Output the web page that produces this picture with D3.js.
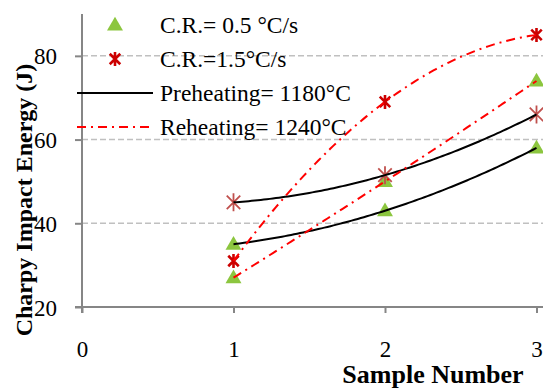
<!DOCTYPE html>
<html>
<head>
<meta charset="utf-8">
<script src="https://cdn.jsdelivr.net/npm/d3@7"></script>
<style>
  body { margin: 0; background: #fff; }
  svg { display: block; font-family: "Liberation Serif", "Times New Roman", serif; }
</style>
</head>
<body>
<div id="chart"></div>
<script>
// sample numbers and impact energies (J)
const samples = [1, 2, 3];
const preheatSlow = [35, 43, 58];   // triangles, Preheating 1180
const preheatFast = [45, 51.5, 66]; // stars, Preheating 1180
const reheatSlow = [27, 50, 74];    // triangles, Reheating 1240
const reheatFast = [31, 69, 85];    // stars, Reheating 1240
const xTicks = [0, 1, 2, 3];
const yTicks = [20, 40, 60, 80];
const legendLabels = ['C.R.= 0.5 °C/s', 'C.R.=1.5°C/s', 'Preheating= 1180°C', 'Reheating= 1240°C'];

const width = 543, height = 388;
const margin = { top: 14, right: 0, bottom: 81, left: 82 };

const svg = d3.select('#chart').append('svg')
    .attr('width', width)
    .attr('height', height);

const x = d3.scaleLinear().domain([0, 3]).range([margin.left, 536.5]);
const y = d3.scaleLinear().domain([20, 90]).range([height - margin.bottom, margin.top]);

// Horizontal dashed gridlines
svg.append('g').selectAll('line')
    .data(yTicks.filter(d => d > 20))
    .enter().append('line')
    .attr('x1', margin.left).attr('x2', width)
    .attr('y1', d => y(d)).attr('y2', d => y(d))
    .attr('stroke', '#c0c0c0')
    .attr('stroke-width', 1.5)
    .attr('stroke-dasharray', '6,3');

// Axes
const axisColor = '#868686';
const xAxis = svg.append('g')
    .attr('transform', 'translate(0,' + y(20) + ')')
    .call(d3.axisBottom(x).tickValues(xTicks).tickSize(6).tickPadding(28).tickFormat(d3.format('d')));
xAxis.select('.domain').remove();
xAxis.append('line')
    .attr('x1', margin.left - 7).attr('x2', width)
    .attr('stroke', axisColor).attr('stroke-width', 2);

const yAxis = svg.append('g')
    .attr('transform', 'translate(' + margin.left + ',0)')
    .call(d3.axisLeft(y).tickValues(yTicks).tickSize(7).tickPadding(18));
yAxis.select('.domain').remove();
yAxis.append('line')
    .attr('y1', y(90)).attr('y2', y(20) + 6)
    .attr('stroke', axisColor).attr('stroke-width', 2);

svg.selectAll('.tick line').attr('stroke', axisColor).attr('stroke-width', 2);
svg.selectAll('.tick text')
    .attr('fill', '#000')
    .style('font-family', '"Liberation Serif", "Times New Roman", serif')
    .style('font-size', '23px');
yAxis.selectAll('.tick text').attr('dy', '0.35em');
xAxis.selectAll('.tick line').attr('y2', 6);

// Axis titles
svg.append('text')
    .attr('transform', 'translate(32,200) rotate(-90)')
    .attr('text-anchor', 'middle')
    .style('font-size', '24px')
    .style('font-weight', 'bold')
    .text('Charpy Impact Energy (J)');

svg.append('text')
    .attr('x', 433).attr('y', 383)
    .attr('text-anchor', 'middle')
    .style('font-size', '26px')
    .style('font-weight', 'bold')
    .text('Sample Number');

// Marker helpers
const triangle = d3.symbol().type(d3.symbolTriangle).size(110);
function drawTriangles(g, pts) {
    g.selectAll(null).data(pts).enter().append('path')
        .attr('d', triangle)
        .attr('transform', d => 'translate(' + x(d[0]) + ',' + (y(d[1]) + 1) + ')')
        .attr('fill', '#8cc63f');
}
function starPath(r) {
    const a = r * 0.75;
    return 'M' + (-a) + ',' + (-a) + 'L' + a + ',' + a +
        'M' + (-a) + ',' + a + 'L' + a + ',' + (-a) +
        'M0,' + (-r) + 'L0,' + r;
}
function drawStars(g, pts, r, color, sw) {
    g.selectAll(null).data(pts).enter().append('path')
        .attr('d', starPath(r))
        .attr('transform', d => 'translate(' + x(d[0]) + ',' + y(d[1]) + ')')
        .attr('fill', 'none')
        .attr('stroke', color)
        .attr('stroke-width', sw);
}

const zip = vals => samples.map((s, i) => [s, vals[i]]);

const marks = svg.append('g');
drawTriangles(marks, zip(preheatSlow));
drawTriangles(marks, zip(reheatSlow));
drawStars(marks, zip(preheatFast), 9, '#c0504d', 1.8);
drawStars(marks, zip(reheatFast), 7, '#cc0000', 2.6);

// Second order polynomial trendlines through each series
function quadFit(vals) {
    const [x0, x1, x2] = samples;
    const [y0, y1, y2] = vals;
    return t => y0 * (t - x1) * (t - x2) / ((x0 - x1) * (x0 - x2)) +
        y1 * (t - x0) * (t - x2) / ((x1 - x0) * (x1 - x2)) +
        y2 * (t - x0) * (t - x1) / ((x2 - x0) * (x2 - x1));
}
const trendX = d3.range(samples[0], samples[2] + 0.001, 0.02);
const line = d3.line().x(d => x(d[0])).y(d => y(d[1]));
function drawTrend(vals, color, dash) {
    const f = quadFit(vals);
    svg.append('path')
        .datum(trendX.map(t => [t, f(t)]))
        .attr('d', line)
        .attr('fill', 'none')
        .attr('stroke', color)
        .attr('stroke-width', 2)
        .attr('stroke-dasharray', dash);
}
drawTrend(preheatSlow, '#000', null);
drawTrend(preheatFast, '#000', null);
drawTrend(reheatSlow, '#ff0000', '9,5,2,5');
drawTrend(reheatFast, '#ff0000', '9,5,2,5');

// Legend
const legend = svg.append('g');
const rowY = [25, 59, 93, 127];
legend.selectAll('text').data(legendLabels).enter().append('text')
    .attr('x', 160)
    .attr('y', (d, i) => rowY[i])
    .attr('dy', '0.35em')
    .style('font-size', '23.5px')
    .text(d => d);
legend.append('path')
    .attr('d', triangle)
    .attr('transform', 'translate(115,' + (rowY[0] + 1) + ')')
    .attr('fill', '#8cc63f');
legend.append('path')
    .attr('d', starPath(7))
    .attr('transform', 'translate(115,' + rowY[1] + ')')
    .attr('fill', 'none').attr('stroke', '#cc0000').attr('stroke-width', 2.6);
legend.append('line')
    .attr('x1', 77).attr('x2', 153).attr('y1', rowY[2]).attr('y2', rowY[2])
    .attr('stroke', '#000').attr('stroke-width', 2);
legend.append('line')
    .attr('x1', 77).attr('x2', 153).attr('y1', rowY[3]).attr('y2', rowY[3])
    .attr('stroke', '#ff0000').attr('stroke-width', 2)
    .attr('stroke-dasharray', '9,5,2,5');
</script>
</body>
</html>
